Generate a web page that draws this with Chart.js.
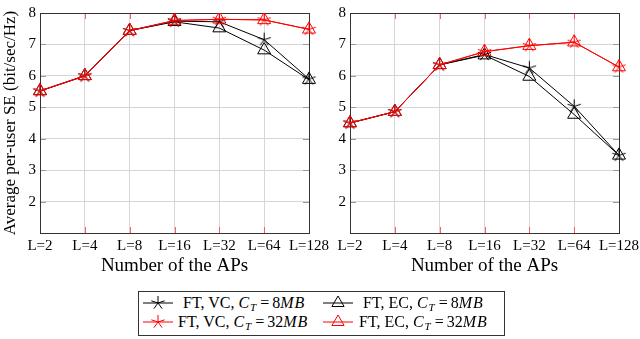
<!DOCTYPE html>
<html><head><meta charset="utf-8">
<script src="https://cdn.jsdelivr.net/npm/chart.js@4"></script>
<style>
html,body{margin:0;padding:0;background:#fff;}
body{width:640px;height:339px;position:relative;overflow:hidden;font-family:"Liberation Serif",serif;}
canvas{position:absolute;top:0;}
#c1{left:0}
#c2{left:320px}
#legend{position:absolute;left:138px;top:291px;width:367px;height:45px;border:1px solid #333;box-sizing:border-box;}
.item{position:absolute;height:18px;line-height:18px;font-size:16px;white-space:nowrap;color:#000}
.item i{margin-right:1px}
.eq{margin:0 3px}
.sample{position:absolute;width:30px;height:18px}
sub{font-size:11px;vertical-align:-3px;line-height:0}
</style></head>
<body>
<canvas id="c1" width="335" height="280"></canvas>
<canvas id="c2" width="320" height="280"></canvas>
<div id="legend"></div>
<svg class="sample" style="left:143px;top:294px" viewBox="0 0 30 18"><line x1="0" y1="9" x2="30" y2="9" stroke="#000" stroke-width="1"/><path id="st1" d="" stroke="#000" fill="none" stroke-width="1"/></svg>
<div class="item" style="left:183px;top:294px">FT, VC, <i>C</i><sub><i>T</i></sub><span class="eq">=</span>8<i>M</i><i>B</i></div>
<svg class="sample" style="left:323px;top:294px" viewBox="0 0 30 18"><line x1="0" y1="9" x2="30" y2="9" stroke="#000" stroke-width="1"/><polygon points="15,2 21.1,12.5 8.9,12.5" stroke="#000" fill="none" stroke-width="1"/></svg>
<div class="item" style="left:363px;top:294px">FT, EC, <i>C</i><sub><i>T</i></sub><span class="eq">=</span>8<i>M</i><i>B</i></div>
<svg class="sample" style="left:143px;top:313px" viewBox="0 0 30 18"><line x1="0" y1="9" x2="30" y2="9" stroke="#f00" stroke-width="1"/><path id="st2" d="" stroke="#f00" fill="none" stroke-width="1"/></svg>
<div class="item" style="left:178px;top:313px">FT, VC, <i>C</i><sub><i>T</i></sub><span class="eq">=</span>32<i>M</i><i>B</i></div>
<svg class="sample" style="left:323px;top:313px" viewBox="0 0 30 18"><line x1="0" y1="9" x2="30" y2="9" stroke="#f00" stroke-width="1"/><polygon points="15,2 21.1,12.5 8.9,12.5" stroke="#f00" fill="none" stroke-width="1"/></svg>
<div class="item" style="left:359px;top:313px">FT, EC, <i>C</i><sub><i>T</i></sub><span class="eq">=</span>32<i>M</i><i>B</i></div>
<script>
// ---- data ----
const categories = ['L=2','L=4','L=8','L=16','L=32','L=64','L=128'];
const seriesNames = ['FT, VC, CT = 8MB','FT, EC, CT = 8MB','FT, VC, CT = 32MB','FT, EC, CT = 32MB'];
// left panel
const vc8Left  = [5.52, 6.00, 7.44, 7.74, 7.72, 7.15, 5.90];
const ec8Left  = [5.52, 6.00, 7.44, 7.72, 7.52, 6.82, 5.88];
const vc32Left = [5.52, 6.00, 7.44, 7.76, 7.80, 7.78, 7.48];
const ec32Left = [5.52, 6.00, 7.44, 7.76, 7.80, 7.78, 7.48];
// right panel
const vc8Right  = [4.50, 4.86, 6.35, 6.68, 6.25, 5.03, 3.47];
const ec8Right  = [4.50, 4.86, 6.35, 6.66, 5.98, 4.77, 3.47];
const vc32Right = [4.50, 4.86, 6.35, 6.77, 6.96, 7.07, 6.28];
const ec32Right = [4.50, 4.86, 6.35, 6.77, 6.96, 7.07, 6.28];
const yMin = 1, yMax = 8;

// star path for legend svg
(function(){
  let d='';
  for(let k=0;k<5;k++){const a=-Math.PI/2+k*2*Math.PI/5; d+=`M15 9 L${(15+7*Math.cos(a)).toFixed(2)} ${(9+7*Math.sin(a)).toFixed(2)} `;}
  document.getElementById('st1').setAttribute('d',d);
  document.getElementById('st2').setAttribute('d',d);
})();

function makeStar(color){
  const c=document.createElement('canvas'); c.width=17; c.height=17;
  const g=c.getContext('2d'); g.strokeStyle=color; g.lineWidth=1; g.beginPath();
  for(let k=0;k<5;k++){const a=-Math.PI/2+k*2*Math.PI/5; g.moveTo(8.5,8.5); g.lineTo(8.5+7*Math.cos(a),8.5+7*Math.sin(a));}
  g.stroke(); return c;
}
const starBlack = makeStar('#000'), starRed = makeStar('#f00');

Chart.defaults.color = '#000';
Chart.defaults.font.family = '"Liberation Serif", serif';

const framePlugin = {
  id:'frame',
  beforeDatasetsDraw(chart){
    const {ctx, chartArea:a, scales:{x,y}} = chart;
    ctx.save(); ctx.lineWidth=1;
    ctx.strokeStyle='rgba(255,70,70,0.85)';
    for(let i=1;i<x.ticks.length-1;i++){
      const px=Math.round(x.getPixelForTick(i))+0.5;
      ctx.beginPath(); ctx.moveTo(px,a.top); ctx.lineTo(px,a.top+6);
      ctx.moveTo(px,a.bottom); ctx.lineTo(px,a.bottom-6); ctx.stroke();
    }
    ctx.strokeStyle='#999';
    y.ticks.forEach((t,i)=>{
      if(t.value<=y.min||t.value>=y.max) return;
      const py=Math.round(y.getPixelForTick(i))+0.5;
      ctx.beginPath(); ctx.moveTo(a.left,py); ctx.lineTo(a.left+6,py);
      ctx.moveTo(a.right,py); ctx.lineTo(a.right-6,py); ctx.stroke();
    });
    ctx.strokeStyle='#333';
    ctx.strokeRect(Math.round(a.left)+0.5, Math.round(a.top)+0.5, Math.round(a.right)-Math.round(a.left), Math.round(a.bottom)-Math.round(a.top));
    ctx.restore();
  }
};

function ds(label,data,color,style,order){
  return {label,data,borderColor:color,backgroundColor:'rgba(0,0,0,0)',borderWidth:1,
    pointStyle:style,pointRadius:7.5,pointHoverRadius:7.5,pointBorderColor:color,
    pointBackgroundColor:'rgba(0,0,0,0)',pointBorderWidth:1,tension:0,order};
}

function makeChart(id, s, yTitle, yW, padRight){
  return new Chart(document.getElementById(id), {
    type:'line',
    data:{labels:categories, datasets:[
      ds(seriesNames[0], s[0], '#000', starBlack, 4),
      ds(seriesNames[1], s[1], '#000', 'triangle', 3),
      ds(seriesNames[2], s[2], '#f00', starRed, 2),
      ds(seriesNames[3], s[3], '#f00', 'triangle', 1)
    ]},
    options:{
      responsive:false, animation:false, devicePixelRatio:1,
      layout:{padding:{top:13,right:padRight,left:0,bottom:0}},
      plugins:{legend:{display:false},tooltip:{enabled:false}},
      scales:{
        x:{type:'category', offset:false,
          grid:{color:'#d6d6d6',drawTicks:false,lineWidth:1},
          border:{display:false},
          ticks:{font:{size:15},padding:4,maxRotation:0,autoSkip:false,color:'#000'},
          title:{display:true,text:'Number of the APs',font:{size:19},padding:{top:0,bottom:3},color:'#000'},
          afterFit(sc){sc.height=47; sc.paddingLeft=0; sc.paddingRight=0;}
        },
        y:{min:yMin,max:yMax,
          grid:{color:'#d6d6d6',drawTicks:false,lineWidth:1},
          border:{display:false},
          ticks:{stepSize:1,font:{size:15},padding:4,color:'#000',callback:v=>v===yMin?'':v},
          title:{display:!!yTitle,text:yTitle||'',font:{size:17},padding:{top:0,bottom:0},color:'#000'},
          afterFit(sc){sc.width=yW; sc.paddingTop=0; sc.paddingBottom=0;}
        }
      }
    },
    plugins:[framePlugin]
  });
}

makeChart('c1',[vc8Left,ec8Left,vc32Left,ec32Left],'Average per-user SE (bit/sec/Hz)',40,26);
makeChart('c2',[vc8Right,ec8Right,vc32Right,ec32Right],null,30,21);
</script>
</body></html>
